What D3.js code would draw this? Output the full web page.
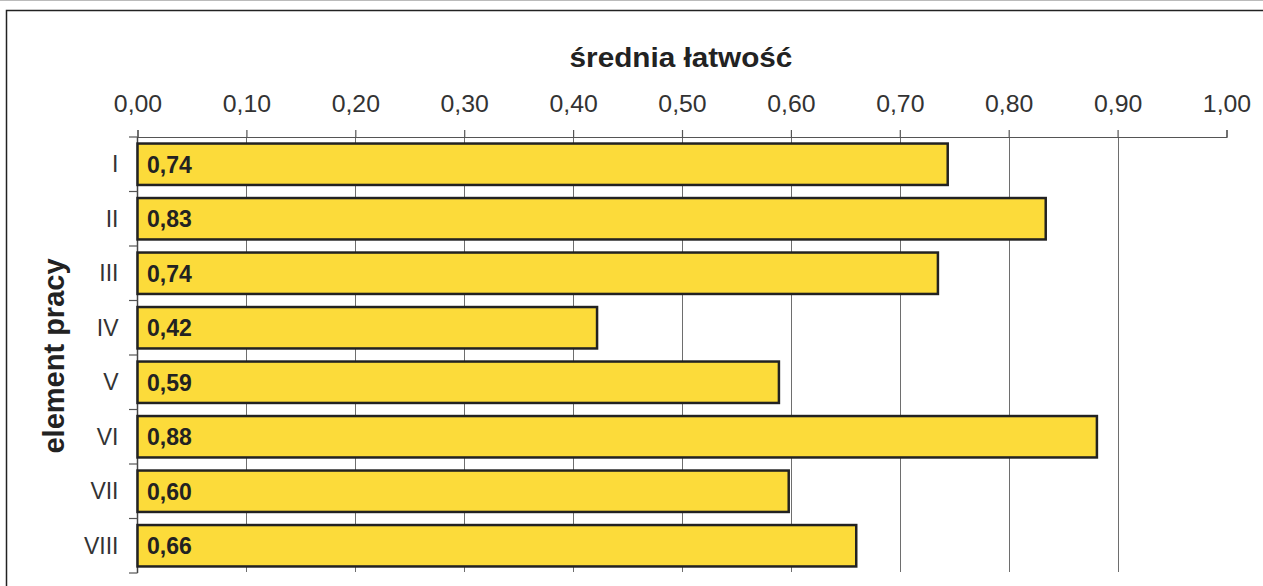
<!DOCTYPE html>
<html>
<head>
<meta charset="utf-8">
<script src="https://cdn.jsdelivr.net/npm/d3@7"></script>
<style>
  html, body { margin: 0; padding: 0; background: #fff; }
  svg { display: block; font-family: "Liberation Sans", Arial, sans-serif; }
</style>
</head>
<body>
<svg id="chart" width="1263" height="586"></svg>
<script>
const categories = ["I", "II", "III", "IV", "V", "VI", "VII", "VIII"];
const values = [0.744, 0.834, 0.735, 0.422, 0.589, 0.881, 0.598, 0.660];
const valueLabels = ["0,74", "0,83", "0,74", "0,42", "0,59", "0,88", "0,60", "0,66"];
const xTicks = [0, 0.1, 0.2, 0.3, 0.4, 0.5, 0.6, 0.7, 0.8, 0.9, 1.0];
const xTitle = "średnia łatwość";
const yTitle = "element pracy";

(function () {
const svg = d3.select("#chart");
const pLeft = 137.5, pRight = 1226.5, pTop = 137, pBottom = 573;

const x = d3.scaleLinear().domain([0, 1]).range([pLeft, pRight]);
const y = d3.scaleBand().domain(categories).range([pTop, pBottom])
  .paddingInner(0.24).paddingOuter(0.12);

// outer frame
svg.append("line").attr("x1", 0).attr("x2", 1263).attr("y1", 0.5).attr("y2", 0.5)
  .attr("stroke", "#bbb").attr("stroke-width", 1);
svg.append("path").attr("d", "M6.5,586 V10.5 H1263")
  .attr("fill", "none").attr("stroke", "#222").attr("stroke-width", 1.5);

// gridlines
svg.append("g").selectAll("line")
  .data(xTicks.filter(t => t > 0 && t < 1))
  .join("line")
  .attr("x1", d => Math.round(x(d)) + 0.5).attr("x2", d => Math.round(x(d)) + 0.5)
  .attr("y1", pTop).attr("y2", pBottom - 1)
  .attr("stroke", "#6e6e6e").attr("stroke-width", 1);

// top axis
const xAxis = d3.axisTop(x).tickValues(xTicks).tickSize(7).tickPadding(18)
  .tickFormat(d => d3.format(".2f")(d).replace(".", ","));
const gx = svg.append("g").attr("transform", `translate(0,${pTop})`).call(xAxis);
gx.select(".domain").attr("stroke", "#555").attr("stroke-width", 1.2);
gx.selectAll(".tick line").attr("stroke", "#555").attr("stroke-width", 1.2);
gx.selectAll(".tick text").attr("font-size", 23).attr("fill", "#333")
  .attr("font-family", "Liberation Sans, Arial, sans-serif")
  .attr("transform", "scale(1.08,1)");

// left axis
const gy = svg.append("g");
gy.append("line").attr("x1", pLeft).attr("x2", pLeft).attr("y1", pTop).attr("y2", pBottom)
  .attr("stroke", "#444").attr("stroke-width", 1.5);
const boundaries = categories.map(c => y(c) - y.step() * y.paddingInner() / 2);
boundaries.push(pBottom);
boundaries[0] = pTop;
gy.selectAll("line.tk").data(boundaries).join("line").attr("class", "tk")
  .attr("x1", pLeft - 8.5).attr("x2", pLeft).attr("y1", d => d).attr("y2", d => d)
  .attr("stroke", "#555").attr("stroke-width", 1.2);
gy.selectAll("text").data(categories).join("text")
  .attr("x", 118.5).attr("y", d => y(d) + y.bandwidth() / 2)
  .attr("dy", "0.35em").attr("text-anchor", "end")
  .attr("font-size", 23).attr("fill", "#333").text(d => d);

// bars
svg.append("g").selectAll("rect").data(values).join("rect")
  .attr("x", x(0)).attr("y", (d, i) => y(categories[i]))
  .attr("width", d => x(d) - x(0)).attr("height", y.bandwidth())
  .attr("fill", "#FCDB3A").attr("stroke", "#222").attr("stroke-width", 2.5);

// value labels
svg.append("g").selectAll("text").data(valueLabels).join("text")
  .attr("x", x(0) + 9.5).attr("y", (d, i) => y(categories[i]) + y.bandwidth() / 2)
  .attr("dy", "0.36em").attr("font-size", 23).attr("font-weight", "bold")
  .attr("fill", "#222").text(d => d);

// titles
svg.append("text").attr("transform", "translate(681,67) scale(1.1,1)")
  .attr("text-anchor", "middle")
  .attr("font-size", 27).attr("font-weight", "bold").attr("fill", "#222").text(xTitle);
svg.append("text").attr("transform", "translate(64,356) rotate(-90)")
  .attr("text-anchor", "middle").attr("font-size", 29).attr("font-weight", "bold")
  .attr("fill", "#222").text(yTitle);
})();
</script>
</body>
</html>
